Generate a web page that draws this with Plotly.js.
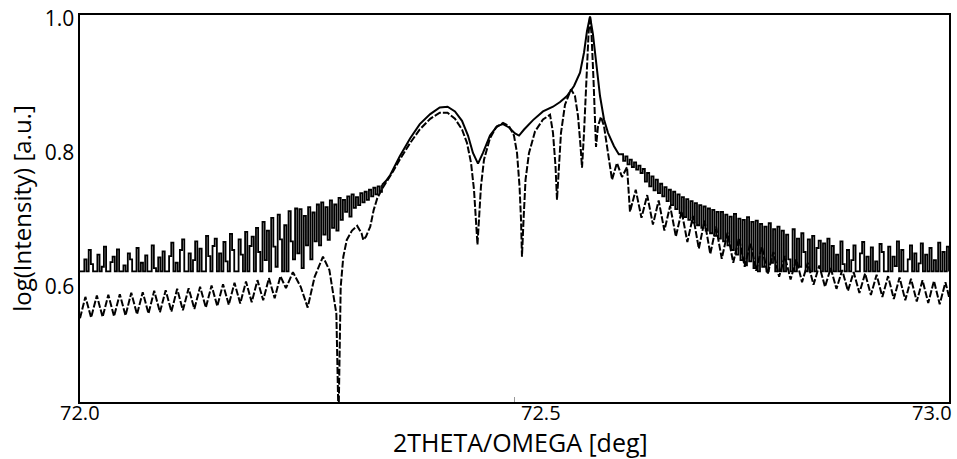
<!DOCTYPE html>
<html>
<head>
<meta charset="utf-8">
<script src="https://cdn.plot.ly/plotly-3.0.1.min.js"></script>
<style>html,body{margin:0;padding:0;background:#fff;}#chart{width:957px;height:459px;}</style>
</head>
<body>
<div id="chart"></div>
<script>
// ---- measured scan (solid line) ----
// left noisy part: scan start / step of the recorded grid
const measLeftStart = 72.0;
const measStep = 0.0025;
const measLeftY = [
.623,.623,.641,.623,.655,.634,.623,.623,.648,.623,
.630,.660,.623,.623,.637,.645,.623,.656,.623,.623,
.632,.623,.650,.641,.623,.623,.658,.623,.636,.623,
.647,.623,.623,.662,.628,.623,.644,.623,.653,.623,
.623,.646,.666,.623,.636,.623,.655,.671,.623,.623,
.650,.623,.640,.668,.623,.657,.623,.623,.676,.646,
.623,.661,.672,.623,.650,.623,.667,.638,.623,.679,
.655,.623,.623,.671,.648,.623,.682,.623,.661,.675,
.623,.688,.652,.623,.697,.640,.684,.623,.703,.660,
.630,.708,.671,.623,.692,.623,.713,.668,.641,.717,
.650,.716,.628,.706,.662,.719,.641,.711,.668,.723,
.662,.726,.678,.719,.670,.729,.688,.723,.684,.733,
.700,.730,.712,.735,.705,.738,.718,.734,.722,.740,
.726,.742,.730,.745,.735,.748,.738,.750,.742,.752
];
// smooth central part
const measMidX = [72.3475,72.3520,72.3570,72.3680,72.3800,72.3910,72.4030,72.4140,72.4230,72.4315,
72.4396,72.4465,72.4522,72.4580,72.4637,72.4718,72.4800,72.4868,72.4937,72.5006,
72.5052,72.5110,72.5213,72.5328,72.5443,72.5524,72.5604,72.5685,72.5754,72.5800,
72.5834,72.5869,72.5903,72.5938,72.5984,72.6030,72.6076,72.6145,72.6200,72.6225];
const measMidY = [.752,.758,.767,.795,.822,.843,.858,.868,.869,.862,
.848,.826,.800,.784,.800,.826,.840,.843,.838,.829,
.826,.835,.849,.862,.869,.876,.885,.900,.920,.950,
.982,1.004,.977,.935,.885,.850,.830,.810,.798,.798];
// right noisy part
const measRightStart = 72.6225;
const measRightY = [
.798,.788,.795,.783,.790,.779,.786,.775,.781,.770,
.776,.757,.770,.750,.765,.744,.760,.740,.754,.735,.749,.728,.745,.722,
.742,.716,.738,.710,.734,.704,.731,.700,.728,.696,.725,.692,.722,.688,.720,.684,.717,.680,.715,.676,.712,.672,
.712,.668,.708,.662,.705,.655,.709,.648,.702,.640,.700,.632,.704,.638,.697,.628,.699,.623,.694,.630,.690,.623,.695,.636,.686,.623,.690,.623,
.684,.623,.678,.641,.623,.686,.623,.672,.630,.680,.652,.623,.671,.623,.676,.623,.658,.669,.623,.665,.623,.672,
.623,.661,.623,.648,.623,.668,.634,.623,.655,.623,
.640,.662,.623,.623,.650,.667,.623,.645,.623,.659,
.623,.638,.623,.664,.652,.623,.623,.660,.623,.645,
.631,.668,.623,.655,.623,.623,.641,.662,.623,.650,
.623,.635,.665,.623,.648,.623,.658,.623,.640,.623,
.666,.623,.652,.623,.660,.623
];

// ---- simulated curve (dashed line) ----
const simX = [
72.0000,72.0062,72.0128,72.0194,72.0260,72.0326,72.0392,72.0458,72.0524,72.0590,
72.0656,72.0722,72.0788,72.0854,72.0920,72.0986,72.1052,72.1118,72.1184,72.1250,
72.1316,72.1382,72.1448,72.1514,72.1580,72.1646,72.1712,72.1778,72.1844,72.1910,
72.1976,72.2042,72.2108,72.2174,72.2240,72.2306,72.2370,72.2450,72.2540,72.2620,
72.2700,72.2796,72.2870,72.2910,72.2950,72.2975,72.3000,72.3030,72.3070,72.3130,
72.3190,72.3240,72.3260,72.3290,72.3340,72.3380,72.3420,72.3470,72.3530,72.3600,
72.3680,72.3800,72.3910,72.4030,72.4140,72.4230,72.4315,72.4396,72.4453,72.4500,
72.4534,72.4557,72.4574,72.4591,72.4614,72.4649,72.4718,72.4787,72.4868,72.4937,
72.4994,72.5029,72.5058,72.5075,72.5086,72.5104,72.5127,72.5167,72.5236,72.5328,
72.5409,72.5443,72.5472,72.5489,72.5506,72.5535,72.5581,72.5650,72.5696,72.5731,
72.5760,72.5777,72.5800,72.5829,72.5852,72.5869,72.5886,72.5909,72.5926,72.5938,
72.5961,72.5995,72.6030,72.6064,72.6099,72.6122,72.6179,72.6237,72.6295,
72.6329,72.6395,72.6461,72.6527,72.6593,72.6659,72.6725,72.6791,72.6857,72.6923,
72.6989,72.7055,72.7121,72.7187,72.7253,72.7319,72.7385,72.7451,72.7517,72.7583,
72.7649,72.7715,72.7781,72.7847,72.7913,72.7979,72.8045,72.8111,72.8177,72.8243,
72.8309,72.8375,72.8441,72.8507,72.8573,72.8639,72.8705,72.8771,72.8837,72.8903,
72.8969,72.9035,72.9101,72.9167,72.9233,72.9299,72.9365,72.9431,72.9497,72.9563,
72.9629,72.9695,72.9761,72.9827,72.9893,72.9959,73.0000
];
const simY = [
.553,.585,.554,.587,.555,.588,.556,.589,.557,.591,
.559,.592,.560,.594,.562,.595,.563,.597,.565,.598,
.567,.600,.569,.602,.571,.604,.573,.606,.575,.608,
.577,.610,.580,.613,.583,.616,.598,.622,.600,.569,
.615,.645,.625,.595,.560,.400,.600,.645,.670,.684,
.691,.680,.670,.675,.690,.715,.732,.745,.757,.772,
.790,.815,.835,.851,.860,.860,.851,.835,.815,.785,
.745,.700,.663,.700,.750,.790,.822,.838,.845,.840,
.826,.800,.750,.700,.645,.700,.760,.800,.832,.850,
.857,.830,.780,.730,.770,.830,.872,.895,.885,.855,
.810,.778,.830,.920,.978,1.004,.978,.910,.840,.809,
.840,.854,.840,.810,.775,.760,.785,.764,.779,
.712,.745,.703,.737,.693,.729,.684,.721,.675,.713,
.667,.706,.657,.699,.649,.690,.642,.681,.636,.673,
.630,.666,.624,.660,.619,.652,.615,.646,.611,.641,
.607,.636,.603,.632,.600,.628,.597,.625,.594,.622,
.591,.620,.588,.618,.585,.616,.582,.614,.580,.612,
.578,.610,.576,.609,.574,.607,.585
];

// ---- axes ----
const xTickVals = [72.0, 72.5, 73.0];
const xTickText = ['72.0', '72.5', '73.0'];
const yTickVals = [0.6, 0.8, 1.0];
const yTickText = ['0.6', '0.8', '1.0'];
const xTitle = '2THETA/OMEGA [deg]';
const yTitle = 'log(Intensity) [a.u.]';

const measLeftX = measLeftY.map((_, i) => +(measLeftStart + i * measStep).toFixed(4));
const measRightX = measRightY.map((_, i) => +(measRightStart + i * measStep).toFixed(4));

const FONT = '"Open Sans", "Noto Sans", sans-serif';
const lineStyle = {color: '#000', width: 1.8};

const traces = [
  {x: simX, y: simY, mode: 'lines', line: {color: '#000', width: 2, dash: '7px,2px'}, hoverinfo: 'skip', name: 'simulation'},
  {x: measLeftX, y: measLeftY, mode: 'lines', line: Object.assign({shape: 'hv'}, lineStyle), hoverinfo: 'skip', name: 'measured'},
  {x: measMidX, y: measMidY, mode: 'lines', line: Object.assign({}, lineStyle, {width: 2}), hoverinfo: 'skip', name: 'measured'},
  {x: measRightX, y: measRightY, mode: 'lines', line: Object.assign({shape: 'hv'}, lineStyle), hoverinfo: 'skip', name: 'measured'}
];

const anchors = ['center', 'left', 'right'];
const shifts = [0, 4, 5];
const annotations = xTickVals.map((v, i) => ({
  x: v, xref: 'x', y: 0, yref: 'paper', yanchor: 'top', yshift: 5,
  xanchor: anchors[i], xshift: shifts[i], showarrow: false,
  text: xTickText[i], font: {family: FONT, size: 20, color: '#000'}
}));
annotations.push({
  x: 0.5, xref: 'paper', xanchor: 'center', xshift: 6,
  y: 0, yref: 'paper', yanchor: 'middle', yshift: -40,
  showarrow: false, text: xTitle, font: {family: FONT, size: 25, color: '#000'}
});

const layout = {
  width: 957, height: 459,
  margin: {l: 80, r: 8, t: 15, b: 57},
  paper_bgcolor: '#fff', plot_bgcolor: '#fff',
  showlegend: false,
  font: {family: FONT, color: '#000'},
  xaxis: {
    range: [72.0, 73.0], showgrid: false, zeroline: false,
    showline: true, mirror: true, linecolor: '#000', linewidth: 1.6,
    tickvals: [xTickVals[1]], ticks: 'inside', ticklen: 5, tickcolor: '#999', tickwidth: 1,
    showticklabels: false
  },
  yaxis: {
    range: [0.428, 1.006], showgrid: false, zeroline: false,
    showline: true, mirror: true, linecolor: '#000', linewidth: 1.6,
    tickvals: yTickVals, ticktext: yTickText, ticks: '',
    tickfont: {family: FONT, size: 21, color: '#000'},
    title: {text: yTitle, font: {family: FONT, size: 24, color: '#000'}, standoff: 6}
  },
  annotations: annotations
};

Plotly.newPlot('chart', traces, layout, {staticPlot: true, displayModeBar: false});
</script>
</body>
</html>
